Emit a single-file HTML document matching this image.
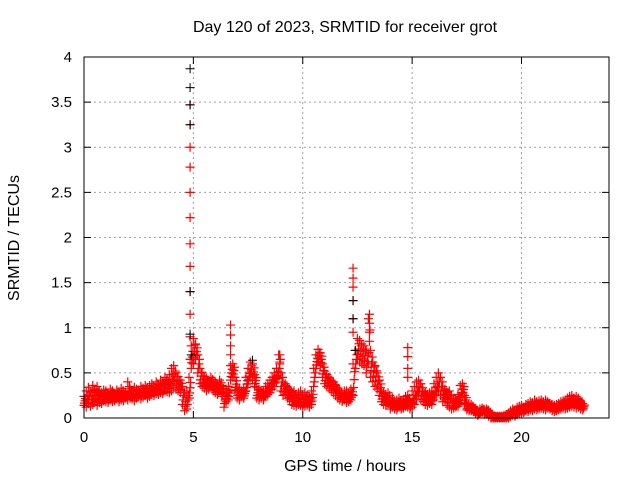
<!DOCTYPE html>
<html><head><meta charset="utf-8"><style>
body{margin:0;background:#fff;width:640px;height:480px;overflow:hidden}
svg text{font-family:"Liberation Sans",sans-serif;font-size:15px;fill:#000}
svg text.big{font-size:16px}
</style></head><body>
<svg id="chart" width="640" height="480" xmlns="http://www.w3.org/2000/svg">
<text class="big" x="345" y="32" text-anchor="middle">Day 120 of 2023, SRMTID for receiver grot</text>
<text class="big" transform="translate(19,238) rotate(-90)" text-anchor="middle">SRMTID / TECUs</text>
<text class="big" x="345" y="471" text-anchor="middle">GPS time / hours</text>
<g id="grid"></g>
<g id="axes"></g>
<g id="marks"></g>
<rect x="84" y="57" width="525" height="361" fill="none" stroke="#000" stroke-width="1"/>
</svg>
<script>
const xTicks=[0,5,10,15,20];
const yTicks=[0,0.5,1,1.5,2,2.5,3,3.5,4];
const yTickLabels=["0","0.5","1","1.5","2","2.5","3","3.5","4"];
const lo=[.14,.12,.16,.13,.15,.18,.14,.17,.16,.19,
.18,.17,.20,.18,.19,.21,.18,.20,.19,.22,
.20,.22,.21,.19,.22,.24,.21,.23,.25,.22,
.24,.26,.25,.27,.26,.28,.27,.30,.29,.28,
.30,.34,.32,.30,.28,.15,.08,.10,.22,.55,
.60,.65,.50,.38,.35,.33,.30,.32,.35,.30,
.28,.26,.30,.24,.12,.18,.20,.42,.45,.30,
.22,.20,.24,.22,.30,.38,.45,.42,.35,.22,
.20,.22,.20,.24,.26,.28,.32,.35,.40,.50,
.30,.25,.26,.22,.20,.15,.14,.13,.15,.14,
.12,.13,.14,.12,.15,.35,.55,.62,.58,.45,
.38,.35,.33,.30,.28,.25,.22,.20,.18,.20,
.17,.18,.20,.25,.55,.65,.62,.60,.58,.50,
.60,.45,.40,.35,.32,.25,.18,.15,.14,.16,
.10,.12,.10,.09,.12,.10,.11,.13,.12,.10,
.12,.15,.20,.25,.20,.18,.15,.14,.16,.15,
.20,.25,.30,.25,.18,.20,.14,.12,.10,.11,
.12,.13,.20,.25,.15,.09,.08,.08,.07,.05,
.03,.05,.06,.04,.05,.02,0,0,0,0,
0,0,0,0,0,.02,.03,.02,.04,.05,
.05,.06,.08,.07,.09,.08,.10,.09,.10,.11,
.10,.09,.11,.10,.08,.07,.08,.09,.10,.11,
.10,.11,.12,.13,.12,.11,.12,.10,.09];
const hi=[.24,.30,.34,.28,.36,.32,.35,.30,.28,.31,
.30,.28,.32,.30,.27,.31,.29,.33,.30,.28,
.40,.33,.30,.34,.32,.31,.35,.33,.36,.34,
.36,.38,.35,.40,.37,.42,.40,.45,.43,.48,
.55,.58,.50,.46,.42,.35,.28,.30,.45,.80,
.88,.82,.70,.55,.50,.46,.44,.42,.45,.42,
.40,.38,.42,.36,.28,.32,.35,.58,.60,.45,
.34,.32,.30,.32,.45,.55,.62,.60,.48,.34,
.32,.30,.30,.35,.38,.42,.45,.50,.55,.70,
.50,.40,.38,.34,.32,.28,.30,.26,.28,.30,
.25,.28,.25,.24,.30,.55,.70,.76,.72,.60,
.52,.48,.45,.42,.40,.36,.33,.30,.28,.30,
.30,.28,.32,.60,.75,.88,.86,.82,.80,.75,
1.10,.75,.62,.58,.50,.42,.30,.28,.26,.28,
.20,.22,.18,.20,.22,.18,.20,.24,.25,.20,
.30,.35,.40,.42,.38,.30,.28,.26,.28,.30,
.38,.45,.50,.45,.35,.32,.28,.30,.25,.22,
.20,.26,.36,.38,.25,.16,.14,.15,.12,.10,
.08,.10,.11,.09,.10,.08,.03,.02,.02,.02,
.02,.02,.03,.04,.05,.08,.10,.09,.12,.13,
.14,.12,.15,.16,.18,.17,.20,.18,.19,.20,
.18,.20,.18,.16,.15,.14,.15,.16,.18,.19,
.20,.22,.24,.25,.22,.24,.22,.18,.16];
const spikeT=[4.85,4.85,4.85,4.85,4.85,4.85,4.85,4.85,4.85,4.85,4.85,4.85,6.7,6.7,6.7,6.7,12.3,12.3,12.3,12.3,12.3,12.3,13.05,13.05,13.05,14.8,14.8,14.8,14.8,8.95,8.95];
const spikeV=[0.65,0.9,1.15,1.4,1.68,1.93,2.22,2.5,2.78,3.0,3.25,3.47,0.7,0.8,0.92,1.03,0.95,1.1,1.3,1.45,1.55,1.66,0.95,1.05,1.15,0.45,0.55,0.68,0.78,0.62,0.7];
const blackT=[4.85,4.85,4.85,4.85,4.85,4.85,12.3,12.3,12.4,7.7,4.9];
const blackV=[3.87,3.66,3.47,3.25,1.4,0.93,1.1,1.3,0.75,0.64,0.7];
const NS="http://www.w3.org/2000/svg";
const X0=84,X1=609,Y0=418,Y1=57;
function xs(v){return X0+v/24*(X1-X0);}
function ys(v){return Y0-v/4*(Y0-Y1);}
const grid=document.getElementById('grid'),axes=document.getElementById('axes'),marks=document.getElementById('marks');
function mk(tag,attrs,parent){const e=document.createElementNS(NS,tag);for(const k in attrs)e.setAttribute(k,attrs[k]);parent.appendChild(e);return e;}
yTicks.forEach((v,i)=>{const y=ys(v);
 if(i>0&&i<yTicks.length-1){const g=mk('line',{x1:X0,x2:X1,y1:y,y2:y,stroke:'#a0a0a0','stroke-dasharray':'2,3'},grid);
 
 }
 mk('line',{x1:X0,x2:X0+7,y1:y,y2:y,stroke:'#000'},axes);
 mk('line',{x1:X1-7,x2:X1,y1:y,y2:y,stroke:'#000'},axes);
 const t=mk('text',{x:X0-12,y:y+5,'text-anchor':'end'},axes);t.textContent=yTickLabels[i];
 
 
});
xTicks.forEach(v=>{const x=xs(v);
 if(v>0){const g=mk('line',{x1:x,x2:x,y1:Y1,y2:Y0,stroke:'#a0a0a0','stroke-dasharray':'2,3'},grid);
 
 }
 mk('line',{x1:x,x2:x,y1:Y0,y2:Y0-7,stroke:'#000'},axes);
 mk('line',{x1:x,x2:x,y1:Y1,y2:Y1+7,stroke:'#000'},axes);
 const t=mk('text',{x:x,y:Y0+24,'text-anchor':'middle'},axes);t.textContent=String(v);
 
 
});
let d='';
function plus(t,v){const x=xs(t),y=ys(v);return `M${x-4.5},${y}h9M${x},${y-4.5}v9`;}
for(let i=0;i<lo.length;i++){const t=i*0.1,r=hi[i]-lo[i];
 d+=plus(t,lo[i])+plus(t,hi[i])+plus(t+0.05,lo[i]+r*0.5)+plus(t+0.025,lo[i]+r*0.25)+plus(t+0.075,lo[i]+r*0.75);}
for(let i=0;i<spikeT.length;i++)d+=plus(spikeT[i],spikeV[i]);
const red=mk('path',{d:d,stroke:'#ff0000','stroke-width':1.2,fill:'none'},marks);


let db='';for(let i=0;i<blackT.length;i++)db+=plus(blackT[i],blackV[i]);
const blk=mk('path',{d:db,stroke:'#000','stroke-width':1,fill:'none'},marks);


</script>
</body></html>
